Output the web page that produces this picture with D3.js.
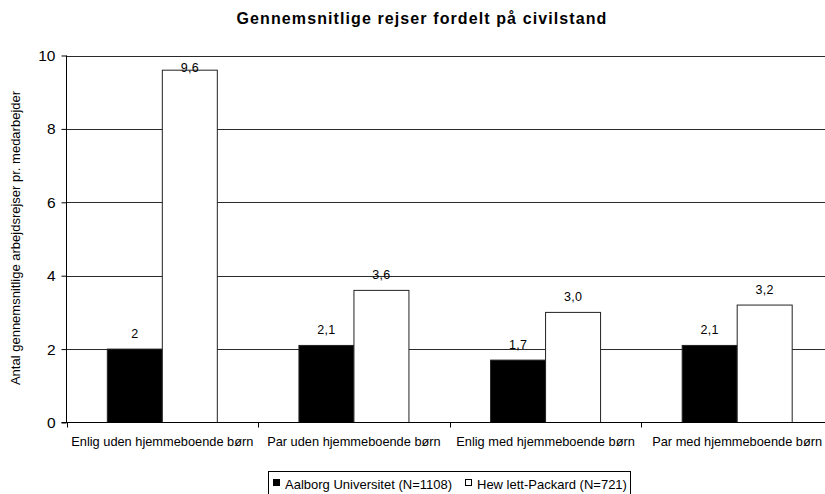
<!DOCTYPE html>
<html><head><meta charset="utf-8">
<script src="https://cdn.jsdelivr.net/npm/d3@7"></script>
<style>body{margin:0;background:#fff;} svg{display:block;font-family:"Liberation Sans",Arial,sans-serif;}</style>
</head><body>
<svg id="chart" width="825" height="494"></svg>
<script>
const title = "Gennemsnitlige rejser fordelt på civilstand";
const yTitle = "Antal gennemsnitlige arbejdsrejser pr. medarbejder";
const categories = ["Enlig uden hjemmeboende børn","Par uden hjemmeboende børn","Enlig med hjemmeboende børn","Par med hjemmeboende børn"];
const seriesNames = ["Aalborg Universitet (N=1108)","Hew lett-Packard (N=721)"];
const aau = [2, 2.1, 1.7, 2.1];
const hp = [9.6, 3.6, 3.0, 3.2];
const aauLabels = ["2","2,1","1,7","2,1"];
const hpLabels = ["9,6","3,6","3,0","3,2"];
const yTicks = [0,2,4,6,8,10];

const svg = d3.select("#chart");
const pL = 66.5, pR = 833, pT = 55.5, pB = 422.5;
const x = d3.scaleBand().domain(categories).range([pL, pR]).paddingInner(0).paddingOuter(0);
const bw = x.bandwidth()*0.287;
const y = d3.scaleLinear().domain([0,10]).range([pB, pT]);

svg.append("text").attr("x",422).attr("y",24).attr("text-anchor","middle")
  .attr("font-size",16).attr("letter-spacing",1.1).attr("font-weight","bold").text(title);

// gridlines
svg.append("g").selectAll("line").data(yTicks.filter(d=>d>0)).join("line")
  .attr("x1",pL).attr("x2",pR).attr("y1",d=>Math.round(y(d))+0.5).attr("y2",d=>Math.round(y(d))+0.5)
  .attr("stroke","#2a2a2a").attr("stroke-width",1);

const series = [{vals:aau, labels:aauLabels, fill:"#000"},{vals:hp, labels:hpLabels, fill:"#fff"}];
series.forEach((s,si)=>{
  const g = svg.append("g");
  g.selectAll("rect").data(categories).join("rect")
    .attr("x",(c)=>x(c)+x.bandwidth()/2 - bw + si*bw)
    .attr("y",(c,i)=>y(s.vals[i]))
    .attr("width",bw).attr("height",(c,i)=>pB - y(s.vals[i]))
    .attr("fill",s.fill).attr("stroke","#222").attr("stroke-width",1);
  g.selectAll("text").data(categories).join("text")
    .attr("x",(c)=>x(c)+x.bandwidth()/2 - bw/2 + si*bw)
    .attr("y",(c,i)=>Math.max(y(s.vals[i]) - 11, pT + 16))
    .attr("text-anchor","middle").attr("font-size",12.5).attr("letter-spacing",0.3).text((c,i)=>s.labels[i]);
});

// axes
const yAxis = svg.append("g").attr("transform",`translate(${pL},0)`).call(d3.axisLeft(y).tickValues(yTicks).tickSize(5).tickFormat(d3.format("d")));
yAxis.select(".domain").attr("d",`M0,${pT}V${pB}`);
yAxis.selectAll("text").attr("font-size",15.5).attr("font-family","Liberation Sans, Arial, sans-serif").attr("dx",-3);
const xAxis = svg.append("g").attr("transform",`translate(0,${pB})`).call(d3.axisBottom(x).tickSize(0).tickFormat(""));
xAxis.select(".domain").attr("d",`M${pL-5},0H${pR}`);
svg.append("g").selectAll("line").data(categories).join("line")
  .attr("x1",c=>Math.round(x(c))+0.5).attr("x2",c=>Math.round(x(c))+0.5)
  .attr("y1",pB).attr("y2",pB+5).attr("stroke","#000");
svg.append("g").selectAll("text").data(categories).join("text")
  .attr("x",c=>x(c)+x.bandwidth()/2).attr("y",445.5).attr("text-anchor","middle")
  .attr("font-size",12.8).text(c=>c);

svg.append("text").attr("transform","translate(20,238) rotate(-90)").attr("text-anchor","middle")
  .attr("font-size",13).text(yTitle);

// legend
const lg = svg.append("g");
lg.append("rect").attr("x",268.5).attr("y",471.5).attr("width",362).attr("height",30).attr("fill","#fff").attr("stroke","#000");
const items = [{name:seriesNames[0],fill:"#000",x:273},{name:seriesNames[1],fill:"#fff",x:465}];
items.forEach(it=>{
  lg.append("rect").attr("x",it.x+0.5).attr("y",479.5).attr("width",6).attr("height",6).attr("fill",it.fill).attr("stroke","#000");
  lg.append("text").attr("x",it.x+12).attr("y",488.5).attr("font-size",13).text(it.name);
});
</script>
</body></html>
